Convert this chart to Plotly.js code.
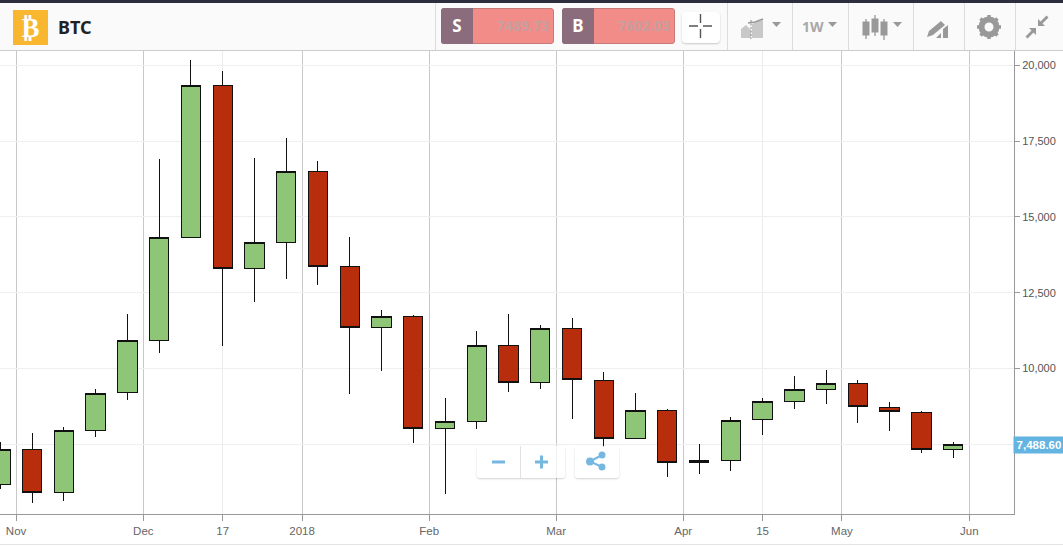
<!DOCTYPE html>
<html>
<head>
<meta charset="utf-8">
<script src="https://cdn.plot.ly/plotly-3.0.1.min.js"></script>
<style>
html,body{margin:0;padding:0;background:#fff;overflow:hidden}
#wrap{position:relative;width:1063px;height:547px;font-family:"Liberation Sans",Arial,sans-serif}
#chart{position:absolute;left:0;top:0;width:1063px;height:547px}
#chart .shapelayer path,#chart .boxes path{shape-rendering:crispEdges}
#hdr{position:absolute;left:0;top:0;width:1063px;height:51px;background:#fafafa;border-bottom:1px solid #ccc;box-sizing:border-box;border-top:3px solid #2d2e3d}
.abs{position:absolute;box-sizing:border-box}
.sep{position:absolute;top:3px;height:47px;width:1px;background:#dcdcdc}
.pill{position:absolute;background:rgba(255,255,255,.75);box-shadow:0 1px 2px rgba(0,0,0,.18);border-radius:3px}
</style>
</head>
<body>
<div id="wrap">
<div id="chart"></div>
<div id="hdr"></div>
<div class="abs" style="left:13px;top:10px;width:35px;height:35px;background:#f9b730"></div>
<div class="abs" style="left:13px;top:10px;width:35px;height:35px;color:#fff;font:bold 27px 'DejaVu Sans';text-align:center;line-height:35px">₿</div>
<div class="abs" style="left:58px;top:15px;font:bold 18px 'Noto Sans';color:#222;line-height:24px">BTC</div>
<div class="sep" style="left:435px"></div>
<div class="abs" style="left:441px;top:8px;width:113px;height:36px;background:#f28c88;border-radius:3px;border:1px solid #c87a78"></div>
<div class="abs" style="left:441px;top:8px;width:32px;height:36px;background:#8b6c7c;border-radius:3px 0 0 3px;color:#fff;font:bold 17px 'Noto Sans';text-align:center;line-height:36px">S</div>
<div class="abs" style="left:473px;top:8px;width:76px;height:36px;color:#c79f9f;font:bold 14px 'Noto Sans';text-align:right;line-height:36px">7489.73</div>
<div class="abs" style="left:562px;top:8px;width:113px;height:36px;background:#f28c88;border-radius:3px;border:1px solid #c87a78"></div>
<div class="abs" style="left:562px;top:8px;width:32px;height:36px;background:#8b6c7c;border-radius:3px 0 0 3px;color:#fff;font:bold 17px 'Noto Sans';text-align:center;line-height:36px">B</div>
<div class="abs" style="left:594px;top:8px;width:76px;height:36px;color:#c79f9f;font:bold 14px 'Noto Sans';text-align:right;line-height:36px">7602.03</div>
<div class="abs" style="left:682px;top:12px;width:38px;height:31px;background:#fff;border-radius:4px;box-shadow:0 1px 2px rgba(0,0,0,.2)"></div>
<div class="sep" style="left:727px"></div>
<div class="sep" style="left:792px"></div>
<div class="sep" style="left:848px"></div>
<div class="sep" style="left:913px"></div>
<div class="sep" style="left:964px"></div>
<div class="sep" style="left:1015px"></div>
<div class="abs" style="left:802px;top:16px;font:bold 14px 'Noto Sans';color:#a8a8a8;line-height:22px">1W</div>
<svg class="abs" style="left:0;top:0" width="1063" height="51">
  <g stroke="#555" stroke-width="1.4">
    <path d="M689 27H698M703 27H712M700.500 15V24M700.500 30V39" transform="translate(0,-1)"/>
  </g>
  <g fill="#c8c8c8"><path d="M741 38V29L746 25L751 30V38Z"/><path d="M752 38V24L758 21L763 20V38Z"/></g>
  <path d="M751 20V39" stroke="#888" stroke-dasharray="2 1.500" fill="none"/>
  <path d="M748 23l7-1 8-3" stroke="#999" stroke-width="1.500" fill="none"/>
  <g fill="#999"><path d="M772 22h9l-4.500 5z"/><path d="M828 22h9l-4.500 5z"/><path d="M893 22h9l-4.500 5z"/></g>
  <g fill="#999" stroke="#999">
    <path d="M866 19v20M875 15v21M884 19v21" stroke-width="1.300"/>
    <rect x="863" y="22" width="6" height="13"/><rect x="872" y="19" width="6" height="13"/><rect x="881" y="22" width="6" height="13"/>
  </g>
  <g fill="#999"><path d="M929 31l12-10 4 4-12 10-6 2z"/><path d="M936 38l5-5v5zM943 38v-9l5-4v13z"/></g>
  <g fill="#999" transform="translate(989,27)">
    <circle r="7.500" fill="none" stroke="#999" stroke-width="6"/>
    <g stroke="#999" stroke-width="3.500"><path d="M0-12V-8M0 8V12M-12 0H-8M8 0H12M-8.500-8.500L-6-6M6 6L8.500 8.500M-8.500 8.500L-6 6M6-6L8.500-8.500"/></g>
  </g>
  <g fill="#999"><path d="M1038 26v-7l2.500 2.500 6-6 2 2-6 6 2.500 2.500z"/><path d="M1036 28v7l-2.500-2.500-6 6-2-2 6-6-2.500-2.500z"/></g>
</svg>
<div class="pill" style="left:477px;top:446px;width:88px;height:32px"></div>
<div class="abs" style="left:520px;top:446px;width:1px;height:32px;background:#e2e2e2"></div>
<div class="pill" style="left:575px;top:446px;width:44px;height:32px"></div>
<svg class="abs" style="left:0;top:0" width="1063" height="547" pointer-events="none">
  <path d="M492 462h13" stroke="#76b7e0" stroke-width="3"/>
  <path d="M535 462h13M541.500 455.500v13" stroke="#76b7e0" stroke-width="3"/>
  <g fill="#76b7e0" stroke="#76b7e0" stroke-width="2">
    <circle cx="602" cy="455" r="2.500"/><circle cx="590" cy="461.500" r="3"/><circle cx="602" cy="467" r="2.500"/>
    <path d="M602 455L590 461.500L602 467" fill="none"/>
  </g>
</svg>
<div class="abs" style="left:0;top:544px;width:1063px;height:1px;background:#e4e4e4"></div>
</div>
<script>
var weeks = ["2017-10-29","2017-11-05","2017-11-12","2017-11-19","2017-11-26","2017-12-03","2017-12-10","2017-12-17","2017-12-24","2017-12-31","2018-01-07","2018-01-14","2018-01-21","2018-01-28","2018-02-04","2018-02-11","2018-02-18","2018-02-25","2018-03-04","2018-03-11","2018-03-18","2018-03-25","2018-04-01","2018-04-08","2018-04-15","2018-04-22","2018-04-29","2018-05-06","2018-05-13","2018-05-20","2018-05-27"];
var opens  = [6181,7336,5918,7962,9216,10930,14327,19340,13305,14163,16504,13371,11359,11722,8028,8259,10766,9545,11326,9611,7698,8622,6907,6973,8325,8919,9314,9512,8721,8556,7336];
var highs  = [7567,7863,8061,9324,11788,16900,20175,19802,16933,17592,16844,14337,11920,11765,9028,11247,11798,11435,11656,9895,9183,8655,7510,8411,9018,9763,9951,9621,8896,8599,7567];
var lows   = [6016,5555,5630,7751,8971,10522,14327,10733,12194,12952,12764,9150,9928,7553,5871,7995,9225,9334,8345,7421,7665,6432,6521,6620,7817,8665,8830,8213,7949,7223,7049];
var closes = [7336,5918,7962,9183,10930,14327,19340,13305,14163,16504,13371,11359,11722,8028,8259,10766,9545,11326,9644,7698,8622,6907,6973,8292,8919,9314,9512,8754,8589,7336,7489];

var xTickVals = ["2017-11-01 11:00","2017-11-29 12:00","2017-12-17","2018-01-03 12:00","2018-01-31 12:00","2018-02-28 12:00","2018-03-28 12:00","2018-04-15","2018-05-02 12:00","2018-05-30 14:00"];
var xTickText = ["Nov","Dec","17","2018","Feb","Mar","Apr","15","May","Jun"];
var xMajorTicks = ["2017-11-01 11:00","2017-11-29 12:00","2018-01-03 12:00","2018-01-31 12:00","2018-02-28 12:00","2018-03-28 12:00","2018-05-02 12:00","2018-05-30 14:00"];
var xMinorTicks = ["2017-12-17","2018-04-15"];
var yTickVals = [20000,17500,15000,12500,10000,7500];
var yTickText = ["20,000","17,500","15,000","12,500","10,000",""];
var lastPrice = 7488.60;
var lastPriceLabel = "7,488.60";

function vline(color){
  return function(d){return {type:"line",xref:"x",yref:"paper",x0:d,x1:d,y0:0,y1:1,layer:"below",line:{color:color,width:1}};};
}
var trace = {
  type:"candlestick", x:weeks, open:opens, high:highs, low:lows, close:closes,
  increasing:{line:{color:"#111",width:1},fillcolor:"#8fc577"},
  decreasing:{line:{color:"#111",width:1},fillcolor:"#b82d0c"},
  whiskerwidth:0, hoverinfo:"skip", showlegend:false
};
var layout = {
  width:1063, height:547, margin:{l:0,r:49,t:51,b:33},
  paper_bgcolor:"#fff", plot_bgcolor:"#fff", showlegend:false, boxgap:0.13,
  xaxis:{type:"date",range:["2017-10-28 22:00","2018-06-09 10:00"],rangeslider:{visible:false},
    tickmode:"array",tickvals:xTickVals,ticktext:xTickText,ticks:"outside",ticklen:6,tickcolor:"#999",tickwidth:1,
    showgrid:false,showline:true,linecolor:"#999",linewidth:1,zeroline:false,
    tickfont:{family:"Liberation Sans, Arial",size:11.5,color:"#666"}},
  yaxis:{side:"right",range:[5202,20472],tickmode:"array",tickvals:yTickVals,ticktext:yTickText,
    ticks:"outside",ticklen:5,tickcolor:"#999",tickwidth:1,showgrid:true,gridcolor:"#efefef",gridwidth:1,
    showline:true,linecolor:"#999",linewidth:1,zeroline:false,
    tickfont:{family:"Liberation Sans, Arial",size:11,color:"#555"}},
  shapes:xMajorTicks.map(vline("#c8c8c8")).concat(xMinorTicks.map(vline("#ebebeb"))),
  annotations:[{xref:"paper",yref:"y",x:1,y:lastPrice,xanchor:"left",yanchor:"middle",xshift:-1,showarrow:false,
    text:"<b>"+lastPriceLabel+"</b>",bgcolor:"#63b4e1",width:50,height:16,borderpad:0,align:"center",
    font:{family:"Liberation Sans, Arial",size:11.5,color:"#fff"}}]
};
Plotly.newPlot("chart",[trace],layout,{displayModeBar:false,staticPlot:true});
</script>
</body>
</html>
